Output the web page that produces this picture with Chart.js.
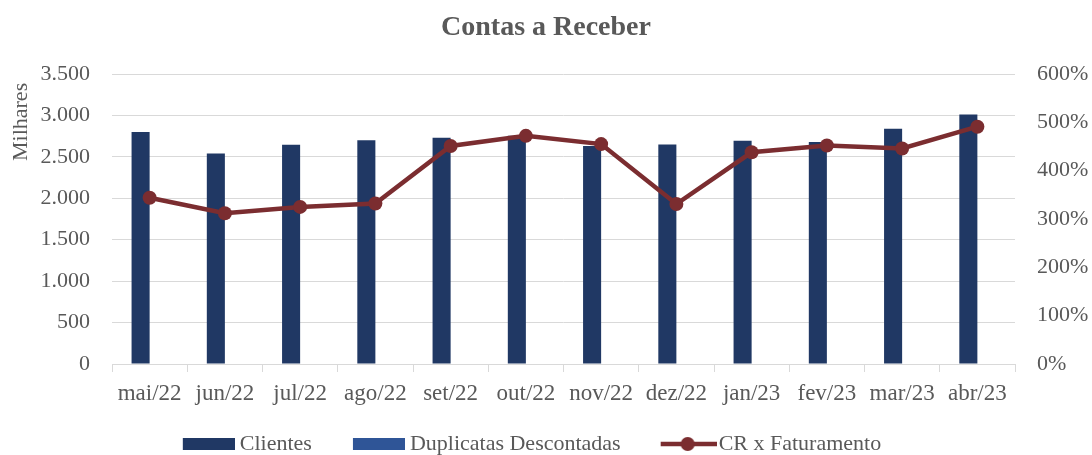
<!DOCTYPE html>
<html>
<head>
<meta charset="utf-8">
<script src="https://cdn.jsdelivr.net/npm/chart.js@4.4.1/dist/chart.umd.min.js"></script>
<style>
    html, body { margin: 0; padding: 0; background: #fff; }
    #wrap { width: 1092px; height: 455px; }
</style>
</head>
<body>
<div id="wrap"><canvas id="chart" width="1092" height="455"></canvas></div>
<script>
const months = ['mai/22', 'jun/22', 'jul/22', 'ago/22', 'set/22', 'out/22', 'nov/22', 'dez/22', 'jan/23', 'fev/23', 'mar/23', 'abr/23'];
// milhares
const clientes = [2800, 2540, 2645, 2700, 2730, 2755, 2630, 2650, 2695, 2680, 2840, 3010];
const duplicatas = [0, 0, 0, 0, 0, 0, 0, 0, 0, 0, 0, 0];
// percentual
const crFaturamento = [344, 312, 325, 332, 451, 472, 455, 331, 438, 452, 446, 491];

const navy = '#203864';
const blue = '#2F5597';
const wine = '#7B2D30';
const grey = '#595959';
const gridGrey = '#D9D9D9';
const serif = "'Liberation Serif', 'DejaVu Serif', serif";

function thousands(v) {
    return String(v).replace(/\B(?=(\d{3})+(?!\d))/g, '.');
}

// legend swatches: transparent margin on the left so items sit closer to their text
function boxSwatch(color) {
    const c = document.createElement('canvas');
    c.width = 72; c.height = 12;
    const g = c.getContext('2d');
    g.fillStyle = color;
    g.fillRect(20, 0, 52, 12);
    return c;
}

function lineSwatch(color) {
    const c = document.createElement('canvas');
    c.width = 78; c.height = 16;
    const g = c.getContext('2d');
    g.strokeStyle = color;
    g.lineWidth = 4.5;
    g.beginPath();
    g.moveTo(22, 8); g.lineTo(78, 8);
    g.stroke();
    g.fillStyle = color;
    g.beginPath();
    g.arc(49, 8, 7, 0, Math.PI * 2);
    g.fill();
    return c;
}

const swatches = [boxSwatch(navy), boxSwatch(blue), lineSwatch(wine)];

const legendShift = {
    id: 'legendShift',
    afterLayout(chart) {
        if (chart.legend) chart.legend.right -= 42;
    }
};

new Chart(document.getElementById('chart'), {
    data: {
        labels: months,
        datasets: [
            {
                type: 'bar',
                label: 'Clientes',
                data: clientes,
                backgroundColor: navy,
                yAxisID: 'y',
                order: 1,
                categoryPercentage: 0.48,
                barPercentage: 1.0
            },
            {
                type: 'bar',
                label: 'Duplicatas Descontadas',
                data: duplicatas,
                backgroundColor: blue,
                yAxisID: 'y',
                order: 1,
                categoryPercentage: 0.48,
                barPercentage: 1.0
            },
            {
                type: 'line',
                label: 'CR x Faturamento',
                data: crFaturamento,
                borderColor: wine,
                backgroundColor: wine,
                borderWidth: 4.5,
                pointRadius: 7,
                pointBackgroundColor: wine,
                pointBorderWidth: 0,
                tension: 0,
                yAxisID: 'y1',
                order: 0
            }
        ]
    },
    plugins: [legendShift],
    options: {
        responsive: false,
        animation: false,
        layout: { padding: 0 },
        plugins: {
            title: {
                display: true,
                text: 'Contas a Receber',
                color: grey,
                font: { family: serif, size: 28, weight: 'bold' },
                padding: { top: 11, bottom: 29.4 }
            },
            legend: {
                position: 'bottom',
                maxHeight: 49,
                labels: {
                    color: grey,
                    font: { family: serif, size: 22 },
                    usePointStyle: true,
                    pointStyleWidth: 60,
                    boxHeight: 16,
                    padding: 27,
                    sort: (a, b) => a.datasetIndex - b.datasetIndex,
                    generateLabels: (chart) => {
                        const items = Chart.defaults.plugins.legend.labels.generateLabels(chart);
                        items.forEach(it => { it.pointStyle = swatches[it.datasetIndex]; });
                        return items;
                    }
                }
            },
            tooltip: { enabled: false }
        },
        scales: {
            x: {
                grid: {
                    display: true,
                    drawOnChartArea: false,
                    drawTicks: true,
                    tickLength: 8,
                    color: gridGrey,
                    offset: true
                },
                border: { display: true, color: gridGrey, width: 1 },
                ticks: {
                    color: grey,
                    font: { family: serif, size: 23 },
                    padding: 8,
                    maxRotation: 0,
                    autoSkip: false
                },
                afterFit: (scale) => { scale.height = 42; }
            },
            y: {
                position: 'left',
                min: 0,
                max: 3500,
                ticks: {
                    stepSize: 500,
                    color: grey,
                    font: { family: serif, size: 22 },
                    padding: 22,
                    callback: (v) => thousands(v)
                },
                grid: { color: gridGrey, lineWidth: 1, drawTicks: false },
                border: { display: false },
                title: {
                    display: true,
                    text: 'Milhares\u2009\u2009',
                    align: 'end',
                    color: grey,
                    font: { family: serif, size: 22 },
                    padding: { top: 8, bottom: 0 }
                },
                afterFit: (scale) => { scale.width = 112; }
            },
            y1: {
                position: 'right',
                min: 0,
                max: 600,
                ticks: {
                    stepSize: 100,
                    color: grey,
                    font: { family: serif, size: 22 },
                    padding: 22,
                    callback: (v) => v + '%'
                },
                grid: { display: false, drawTicks: false },
                border: { display: false },
                afterFit: (scale) => { scale.width = 77; }
            }
        }
    }
});
</script>
</body>
</html>
